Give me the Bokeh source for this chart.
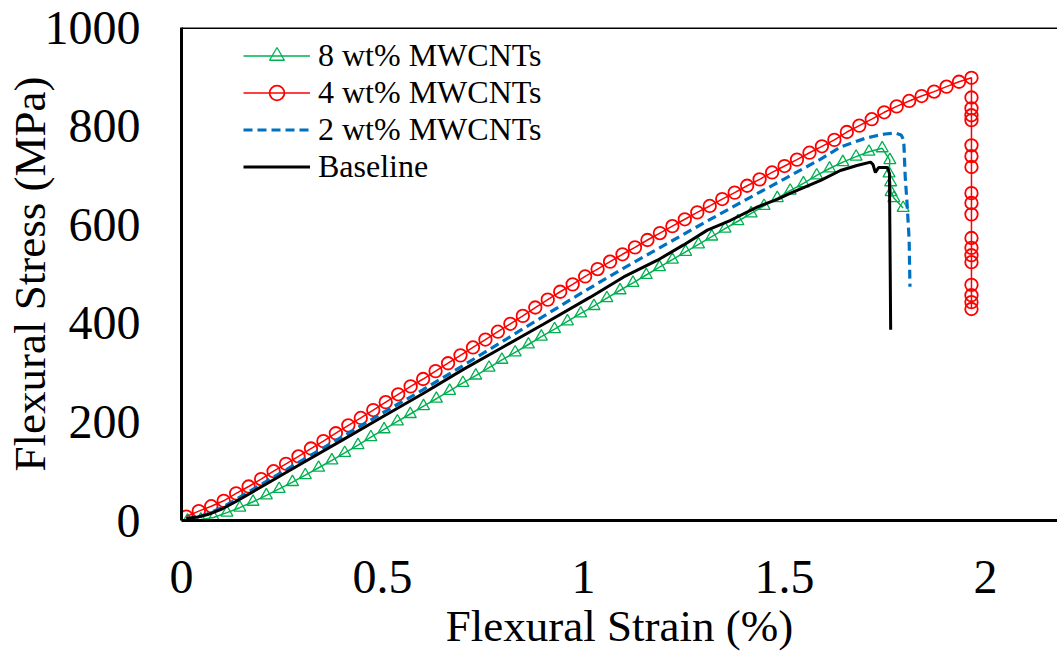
from bokeh.plotting import figure
from bokeh.models import Legend, LegendItem, Span, FixedTicker
from bokeh.embed import file_html
from bokeh.resources import INLINE

# ---- data ----
x_ticks = [0, 0.5, 1, 1.5, 2]
x_tick_labels = ["0", "0.5", "1", "1.5", "2"]
y_ticks = [0, 200, 400, 600, 800, 1000]

mw8_x = [0.015, 0.048, 0.080, 0.113, 0.145, 0.178, 0.211, 0.243, 0.276, 0.308,
         0.341, 0.374, 0.406, 0.439, 0.471, 0.504, 0.537, 0.569, 0.602, 0.634,
         0.667, 0.700, 0.732, 0.765, 0.797, 0.830, 0.863, 0.895, 0.928, 0.960,
         0.993, 1.026, 1.058, 1.091, 1.123, 1.156, 1.189, 1.221, 1.254, 1.286,
         1.319, 1.352, 1.384, 1.417, 1.449, 1.482, 1.514, 1.547, 1.580, 1.612,
         1.645, 1.678, 1.710, 1.743, 1.762, 1.760, 1.764, 1.765, 1.772, 1.795]
mw8_y = [0, 2, 6, 16, 26, 38, 51, 64, 78, 92,
         107, 122, 137, 153, 169, 185, 201, 216, 232, 247,
         263, 279, 294, 310, 326, 341, 357, 373, 388, 404,
         420, 435, 451, 467, 482, 498, 514, 529, 545, 560,
         576, 592, 607, 623, 638, 654, 669, 684, 700, 714,
         727, 738, 748, 755, 731, 704, 686, 666, 654, 634]

mw4_x = [0.012, 0.043, 0.074, 0.105, 0.136, 0.167, 0.198, 0.229, 0.260, 0.291,
         0.322, 0.353, 0.384, 0.415, 0.446, 0.477, 0.508, 0.539, 0.570, 0.601,
         0.632, 0.663, 0.694, 0.725, 0.756, 0.787, 0.818, 0.849, 0.880, 0.911,
         0.942, 0.973, 1.004, 1.035, 1.066, 1.097, 1.128, 1.159, 1.190, 1.221,
         1.252, 1.283, 1.314, 1.345, 1.376, 1.407, 1.438, 1.469, 1.500, 1.531,
         1.562, 1.593, 1.624, 1.655, 1.686, 1.717, 1.748, 1.779, 1.810, 1.841,
         1.872, 1.903, 1.934, 1.965,
         1.965, 1.965, 1.965, 1.965, 1.965, 1.965, 1.965, 1.965, 1.965, 1.965,
         1.965, 1.965, 1.965, 1.965, 1.965, 1.965, 1.965, 1.965]
mw4_y = [8, 19, 29, 40, 55, 69, 84, 100, 115, 130,
         146, 161, 177, 193, 208, 224, 240, 256, 272, 287,
         303, 319, 335, 351, 367, 383, 399, 415, 432, 448,
         464, 479, 495, 510, 525, 540, 554, 569, 583, 597,
         611, 625, 638, 652, 665, 679, 692, 706, 719, 732,
         746, 759, 772, 788, 801, 814, 828, 840, 851, 861,
         870, 880, 890, 898,
         858, 836, 822, 812, 761, 739, 717, 664, 644, 621,
         573, 553, 538, 524, 478, 457, 443, 429]

mw2_x = [0.012, 0.040, 0.070, 0.100, 0.130, 0.200, 0.300, 0.400, 0.500, 0.600,
         0.700, 0.800, 0.900, 1.000, 1.100, 1.200, 1.300, 1.400, 1.500, 1.590,
         1.640, 1.700, 1.720, 1.750, 1.775, 1.790, 1.795, 1.797, 1.800, 1.805,
         1.810, 1.812]
mw2_y = [3, 7, 15, 26, 40, 74, 122, 170, 218, 265,
         314, 364, 414, 464, 512, 558, 604, 649, 693, 733,
         758, 775, 779, 784, 786, 782, 774, 762, 700, 640,
         569, 474]

base_x = [0.012, 0.040, 0.065, 0.097, 0.130, 0.200, 0.300, 0.400, 0.495, 0.600,
          0.700, 0.800, 0.900, 1.017, 1.100, 1.184, 1.249, 1.308, 1.366, 1.433,
          1.483, 1.515, 1.590, 1.639, 1.680, 1.714, 1.720, 1.726, 1.734, 1.756,
          1.761, 1.762, 1.763, 1.764]
base_y = [4, 7, 12, 22, 36, 69, 116, 163, 208, 257,
          306, 352, 398, 453, 494, 528, 559, 589, 609, 636,
          652, 664, 690, 710, 720, 727, 722, 706, 716, 716,
          704, 600, 500, 387]

FONT = "Liberation Serif"

p = figure(width=1057, height=653, output_backend="svg", toolbar_location=None,
           x_range=(0, 2.179), y_range=(0, 1000),
           min_border_left=181, min_border_right=0, min_border_top=27,
           min_border_bottom=132)
p.xgrid.visible = False
p.ygrid.visible = False
p.outline_line_color = None
p.background_fill_color = "white"
p.border_fill_color = "white"

for ax in (p.xaxis[0], p.yaxis[0]):
    ax.major_tick_out = 0
    ax.major_tick_in = 0
    ax.minor_tick_out = 0
    ax.minor_tick_in = 0
    ax.axis_line_color = "black"
    ax.axis_line_width = 3
    ax.major_label_text_font = FONT
    ax.major_label_text_font_size = "48px"
    ax.major_label_text_color = "black"
    ax.axis_label_text_font = FONT
    ax.axis_label_text_font_size = "45px"
    ax.axis_label_text_font_style = "normal"
    ax.axis_label_text_color = "black"

p.xaxis.ticker = FixedTicker(ticks=x_ticks)
p.xaxis.major_label_overrides = {t: s for t, s in zip(x_ticks, x_tick_labels)}
p.xaxis.major_label_standoff = 40
p.xaxis.axis_label = "Flexural Strain (%)"
p.xaxis.axis_label_standoff = 5

p.yaxis.ticker = FixedTicker(ticks=y_ticks)
p.yaxis.major_label_standoff = 41
p.yaxis.axis_label = "Flexural Stress (MPa)"
p.yaxis.axis_label_standoff = -13

p.add_layout(Span(location=1000, dimension="width", line_color="black", line_width=3))

# series
g_line = p.line(mw8_x, mw8_y, line_color="#00B050", line_width=1.5)
g_sc = p.scatter(mw8_x, mw8_y, marker="triangle", size=12, line_color="#00B050",
                 line_width=1.3, fill_color=None)
r_line = p.line(mw4_x, mw4_y, line_color="#FF0000", line_width=1.5)
r_sc = p.scatter(mw4_x, mw4_y, marker="circle", size=12.5, line_color="#FF0000",
                 line_width=1.8, fill_color=None)
b_line = p.line(mw2_x, mw2_y, line_color="#0070C0", line_width=3.2, line_dash="9 5")
k_line = p.line(base_x, base_y, line_color="black", line_width=3)

legend = Legend(items=[
    LegendItem(label="8 wt% MWCNTs", renderers=[g_line, g_sc]),
    LegendItem(label="4 wt% MWCNTs", renderers=[r_line, r_sc]),
    LegendItem(label="2 wt% MWCNTs", renderers=[b_line]),
    LegendItem(label="Baseline", renderers=[k_line]),
], location=(62, 335))
legend.label_text_font = FONT
legend.label_text_font_size = "32px"
legend.label_text_color = "black"
legend.glyph_width = 67
legend.glyph_height = 37
legend.label_height = 37
legend.label_standoff = 8
legend.spacing = 0
legend.padding = 0
legend.margin = 0
legend.border_line_color = None
legend.background_fill_alpha = 0
p.add_layout(legend)

open("out.html", "w").write(file_html(p, INLINE))
